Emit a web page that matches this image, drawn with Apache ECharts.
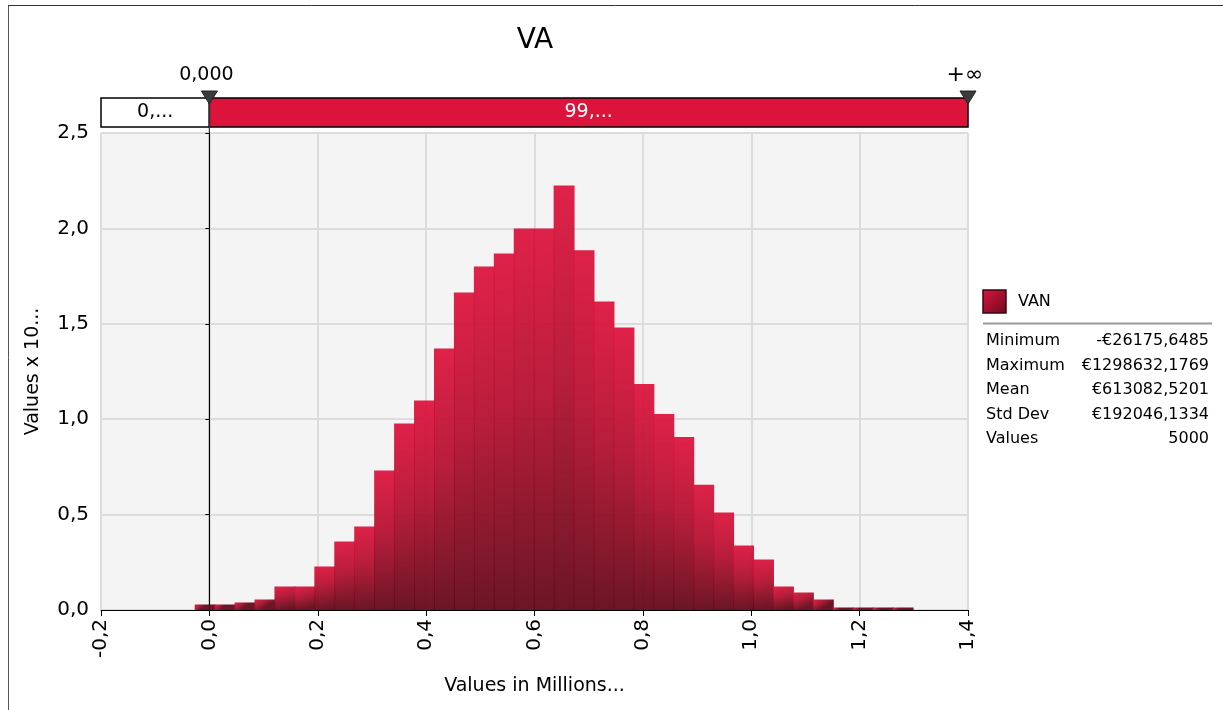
<!DOCTYPE html>
<html lang="pt">
<head>
    <meta charset="UTF-8">
    <title>VA</title>
    <script src="https://cdn.jsdelivr.net/npm/echarts@6/dist/echarts.min.js"></script>
    <style>
        html, body { margin: 0; padding: 0; background: #fff; }
        #main { width: 1223px; height: 710px; }
    </style>
</head>
<body>
<div id="main"></div>
<script>
    // histograma: 36 classes entre o minimo e o maximo (milhoes)
    var binMin = -0.0261756485;
    var binMax = 1.2986321769;
    var binCount = 36;
    var heights = [0.029, 0.029, 0.039, 0.055, 0.123, 0.123, 0.228, 0.359, 0.438, 0.731,
                   0.978, 1.098, 1.370, 1.664, 1.800, 1.869, 2.000, 2.000, 2.225, 1.885,
                   1.617, 1.480, 1.185, 1.027, 0.907, 0.656, 0.511, 0.338, 0.265, 0.123,
                   0.092, 0.055, 0.013, 0.013, 0.013, 0.013];
    var xTicks = [-0.2, 0, 0.2, 0.4, 0.6, 0.8, 1.0, 1.2, 1.4];
    var yTicks = [0, 0.5, 1.0, 1.5, 2.0, 2.5];
    var delimLeft = 0;
    var delimLabels = ['0,...', '99,...'];
    var delimMarks = ['0,000', '+∞'];
    var statNames = ['Minimum', 'Maximum', 'Mean', 'Std Dev', 'Values'];
    var statValues = ['-€26175,6485', '€1298632,1769', '€613082,5201', '€192046,1334', '5000'];

    var font = 'DejaVu Sans';
    var binWidth = (binMax - binMin) / binCount;
    var bins = heights.map(function (h, i) {
        return [binMin + i * binWidth, binMin + (i + 1) * binWidth, h];
    });
    function comma(v) { return v.toFixed(1).replace('.', ','); }

    var barColor = new echarts.graphic.LinearGradient(0, 0, 0.3, 1, [
        { offset: 0, color: '#DE143E' },
        { offset: 0.45, color: '#B4102F' },
        { offset: 1, color: '#620818' }
    ]);

    var myChart = echarts.init(document.getElementById('main'));
    var option = {
        backgroundColor: '#fff',
        animation: false,
        title: {
            text: 'VA',
            left: 530,
            top: 22,
            textAlign: 'center',
            textStyle: { fontFamily: font, fontSize: 28, fontWeight: 'normal', color: '#000' }
        },
        grid: {
            left: 101, right: 255, top: 133, bottom: 100,
            show: true, backgroundColor: '#F4F4F4', borderWidth: 0
        },
        xAxis: {
            type: 'value',
            min: xTicks[0], max: xTicks[xTicks.length - 1], interval: 0.2,
            name: 'Values in Millions...',
            nameLocation: 'middle',
            nameGap: 67,
            nameTextStyle: { fontFamily: font, fontSize: 19, color: '#000' },
            axisLine: { show: true, onZero: false, lineStyle: { color: '#000', width: 1 } },
            axisTick: { show: true, length: 6, lineStyle: { color: '#000' } },
            axisLabel: {
                rotate: 90, margin: 9,
                fontFamily: font, fontSize: 20, color: '#000',
                formatter: comma
            },
            splitLine: { show: true, lineStyle: { color: '#DCDCDC', width: 2 } }
        },
        yAxis: {
            type: 'value',
            min: yTicks[0], max: yTicks[yTicks.length - 1], interval: 0.5,
            name: 'Values x 10...',
            nameLocation: 'middle',
            nameGap: 58,
            nameRotate: 90,
            nameTextStyle: { fontFamily: font, fontSize: 19, color: '#000' },
            axisLine: { show: true, lineStyle: { color: '#000', width: 1 } },
            axisTick: { show: true, length: 4, lineStyle: { color: '#000' } },
            axisLabel: { margin: 12, fontFamily: font, fontSize: 20, color: '#000', formatter: comma },
            splitLine: { show: true, lineStyle: { color: '#DCDCDC', width: 2 } }
        },
        series: [{
            type: 'custom',
            name: 'VAN',
            data: bins,
            encode: { x: [0, 1], y: 2 },
            renderItem: function (params, api) {
                var p0 = api.coord([api.value(0), api.value(2)]);
                var p1 = api.coord([api.value(1), 0]);
                return {
                    type: 'rect',
                    shape: { x: p0[0] - 0.5, y: p0[1], width: p1[0] - p0[0] + 1, height: p1[1] - p0[1] },
                    style: { fill: barColor, opacity: 0.94 }
                };
            }
        }]
    };
    myChart.setOption(option);

    // barra dos delimitadores, marcadores e painel de estatisticas
    var xl = myChart.convertToPixel({ xAxisIndex: 0 }, xTicks[0]);
    var xr = myChart.convertToPixel({ xAxisIndex: 0 }, xTicks[xTicks.length - 1]);
    var x0 = myChart.convertToPixel({ xAxisIndex: 0 }, delimLeft);
    var yb = myChart.convertToPixel({ yAxisIndex: 0 }, 0);
    var barTop = 98, barH = 29;

    var g = [
        { type: 'line', shape: { x1: 8.5, y1: 5, x2: 8.5, y2: 710 }, style: { stroke: '#555', lineWidth: 1 } },
        { type: 'line', shape: { x1: 8, y1: 5.5, x2: 1223, y2: 5.5 }, style: { stroke: '#333', lineWidth: 1 } },
        { type: 'rect', shape: { x: xl, y: barTop, width: x0 - xl, height: barH },
          style: { fill: '#fff', stroke: '#000', lineWidth: 1.5 } },
        { type: 'rect', shape: { x: x0, y: barTop, width: xr - x0, height: barH },
          style: { fill: '#DC143C', stroke: '#000', lineWidth: 1.5 } },
        { type: 'text', x: (xl + x0) / 2, y: barTop + barH / 2,
          style: { text: delimLabels[0], fill: '#000', font: '19px ' + font, align: 'center', verticalAlign: 'middle' } },
        { type: 'text', x: (x0 + xr) / 2, y: barTop + barH / 2,
          style: { text: delimLabels[1], fill: '#fff', font: '19px ' + font, align: 'center', verticalAlign: 'middle' } },
        { type: 'line', shape: { x1: x0, y1: barTop, x2: x0, y2: yb }, style: { stroke: '#333', lineWidth: 1.2 } }
    ];
    [[x0, delimMarks[0], 19], [xr, delimMarks[1], 22]].forEach(function (m) {
        g.push({ type: 'polygon', shape: { points: [[m[0] - 8, 91], [m[0] + 8, 91], [m[0], 104]] },
                 style: { fill: '#3A3A3A', stroke: '#222', lineWidth: 1 } });
        g.push({ type: 'text', x: m[0] - 3, y: 75,
                 style: { text: m[1], fill: '#000', font: m[2] + 'px ' + font, align: 'center', verticalAlign: 'middle' } });
    });

    // legenda
    g.push({ type: 'rect', shape: { x: 983, y: 290, width: 23, height: 23 },
             style: { fill: new echarts.graphic.LinearGradient(0, 0, 1, 1, [
                 { offset: 0, color: '#DE143E' }, { offset: 1, color: '#6C0A1E' }]),
                 stroke: '#3A0610', lineWidth: 1.5 } });
    g.push({ type: 'text', x: 1018, y: 302,
             style: { text: 'VAN', fill: '#000', font: '16px ' + font, verticalAlign: 'middle' } });
    g.push({ type: 'line', shape: { x1: 983, y1: 323.5, x2: 1212, y2: 323.5 },
             style: { stroke: '#999', lineWidth: 2 } });
    statNames.forEach(function (n, i) {
        var y = 341 + i * 24.5;
        g.push({ type: 'text', x: 986, y: y,
                 style: { text: n, fill: '#000', font: '16px ' + font, verticalAlign: 'middle' } });
        g.push({ type: 'text', x: 1209, y: y,
                 style: { text: statValues[i], fill: '#000', font: '16px ' + font, align: 'right', verticalAlign: 'middle' } });
    });
    myChart.setOption({ graphic: g });
</script>
</body>
</html>
